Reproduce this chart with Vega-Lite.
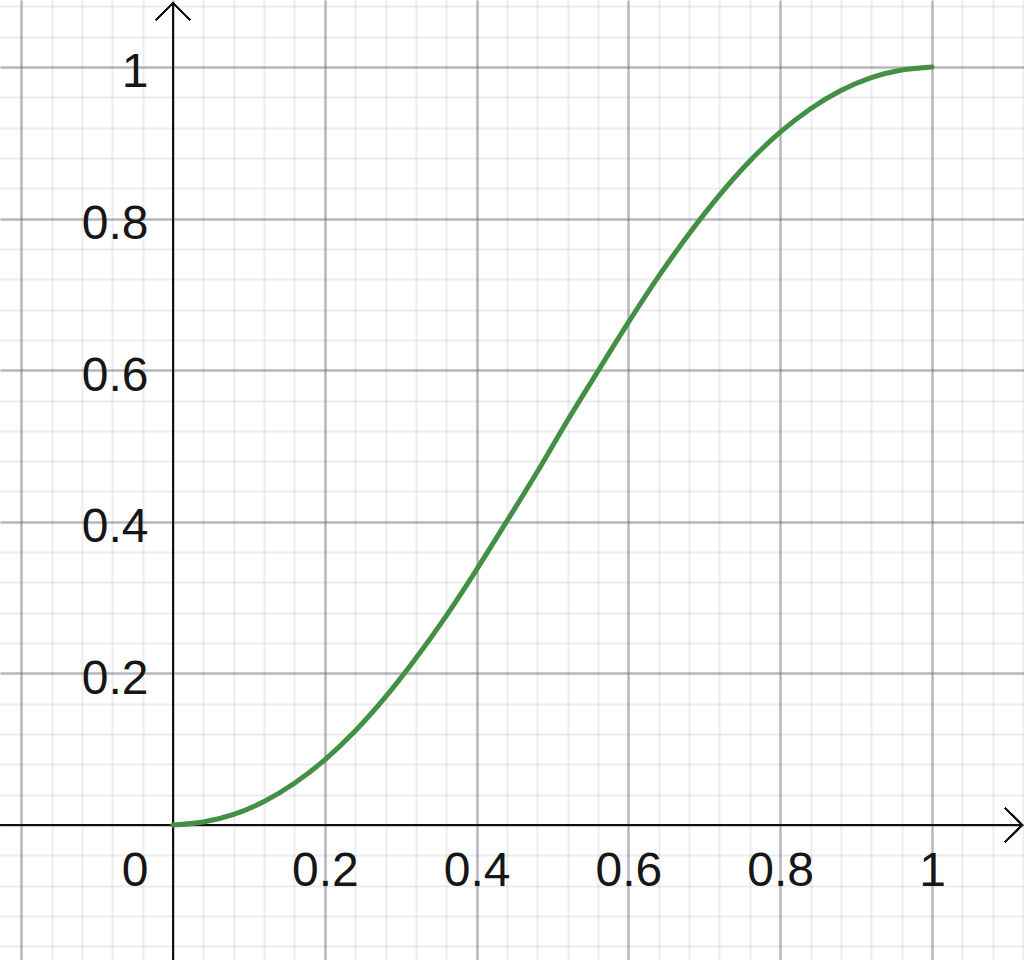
{
  "$schema": "https://vega.github.io/schema/vega-lite/v6.json",
  "width": 1024,
  "height": 960,
  "autosize": {"type": "none"},
  "padding": 0,
  "background": "white",
  "config": {"view": {"stroke": null}},
  "data": {
    "values": [
      {"x": 0, "y": 0},
      {"x": 0.04, "y": 0.004},
      {"x": 0.08, "y": 0.014},
      {"x": 0.12, "y": 0.031},
      {"x": 0.16, "y": 0.055},
      {"x": 0.2, "y": 0.086},
      {"x": 0.24, "y": 0.124},
      {"x": 0.28, "y": 0.169},
      {"x": 0.32, "y": 0.22},
      {"x": 0.36, "y": 0.276},
      {"x": 0.4, "y": 0.337},
      {"x": 0.44, "y": 0.401},
      {"x": 0.48, "y": 0.466},
      {"x": 0.52, "y": 0.534},
      {"x": 0.56, "y": 0.599},
      {"x": 0.6, "y": 0.663},
      {"x": 0.64, "y": 0.724},
      {"x": 0.68, "y": 0.78},
      {"x": 0.72, "y": 0.831},
      {"x": 0.76, "y": 0.876},
      {"x": 0.8, "y": 0.914},
      {"x": 0.84, "y": 0.945},
      {"x": 0.88, "y": 0.969},
      {"x": 0.92, "y": 0.986},
      {"x": 0.96, "y": 0.996},
      {"x": 1, "y": 1}
    ]
  },
  "encoding": {
    "x": {
      "field": "x",
      "type": "quantitative",
      "scale": {"domain": [-0.22793, 1.12121], "nice": false, "zero": false},
      "axis": {
        "orient": "bottom",
        "offset": -135,
        "title": null,
        "values": [-0.2, -0.16, -0.12, -0.08, -0.04, 0, 0.04, 0.08, 0.12, 0.16, 0.2, 0.24, 0.28, 0.32, 0.36, 0.4, 0.44, 0.48, 0.52, 0.56, 0.6, 0.64, 0.68, 0.72, 0.76, 0.8, 0.84, 0.88, 0.92, 0.96, 1, 1.04, 1.08, 1.12],
        "domain": false,
        "ticks": false,
        "tickSize": 0,
        "grid": true,
        "gridColor": "#6e6e80",
        "gridOpacity": {"condition": {"test": "abs(datum.value*5 - round(datum.value*5)) < 0.001", "value": 0.5}, "value": 0.13},
        "gridWidth": {"condition": {"test": "abs(datum.value*5 - round(datum.value*5)) < 0.001", "value": 2.5}, "value": 2},
        "labelExpr": "abs(datum.value*5 - round(datum.value*5)) < 0.001 && datum.value > -0.01 ? format(datum.value, '~g') : ''",
        "labelFont": "Liberation Sans",
        "labelFontSize": 48,
        "labelColor": "#161616",
        "labelBaseline": "alphabetic",
        "labelPadding": 60,
        "labelAlign": {"condition": {"test": "datum.value == 0", "value": "right"}, "value": "center"},
        "labelOffset": {"condition": {"test": "datum.value == 0", "value": -25}, "value": 0},
        "labelOverlap": false,
        "labelBound": false,
        "labelFlush": false
      }
    },
    "y": {
      "field": "y",
      "type": "quantitative",
      "scale": {"domain": [-0.1781, 1.08839], "nice": false, "zero": false},
      "axis": {
        "orient": "left",
        "offset": -173,
        "title": null,
        "values": [-0.16, -0.12, -0.08, -0.04, 0, 0.04, 0.08, 0.12, 0.16, 0.2, 0.24, 0.28, 0.32, 0.36, 0.4, 0.44, 0.48, 0.52, 0.56, 0.6, 0.64, 0.68, 0.72, 0.76, 0.8, 0.84, 0.88, 0.92, 0.96, 1, 1.04, 1.08],
        "domain": false,
        "ticks": false,
        "tickSize": 0,
        "grid": true,
        "gridColor": "#6e6e80",
        "gridOpacity": {"condition": {"test": "abs(datum.value*5 - round(datum.value*5)) < 0.001", "value": 0.5}, "value": 0.13},
        "gridWidth": {"condition": {"test": "abs(datum.value*5 - round(datum.value*5)) < 0.001", "value": 2.5}, "value": 2},
        "labelExpr": "abs(datum.value*5 - round(datum.value*5)) < 0.001 && datum.value > 0.01 ? format(datum.value, '~g') : ''",
        "labelFont": "Liberation Sans",
        "labelFontSize": 48,
        "labelColor": "#161616",
        "labelAlign": "right",
        "labelBaseline": "alphabetic",
        "labelPadding": 25,
        "labelOffset": 20,
        "labelOverlap": false,
        "labelBound": false,
        "labelFlush": false
      }
    }
  },
  "layer": [
    {
      "mark": {"type": "rule", "color": "#111111", "strokeWidth": 1.6},
      "encoding": {
        "x": {"datum": 0},
        "y": {"datum": -0.2},
        "y2": {"datum": 1.0844}
      }
    },
    {
      "mark": {"type": "rule", "color": "#111111", "strokeWidth": 1.6},
      "encoding": {
        "y": {"datum": 0},
        "x": {"datum": -0.3},
        "x2": {"datum": 1.1186}
      }
    },
    {
      "mark": {"type": "point", "shape": "M-1,1L0,0L1,1", "filled": false, "stroke": "#111111", "strokeWidth": 1.6, "size": 1156, "opacity": 1},
      "encoding": {
        "x": {"datum": 0},
        "y": {"datum": 1.0844}
      }
    },
    {
      "mark": {"type": "point", "shape": "M-1,-1L0,0L-1,1", "filled": false, "stroke": "#111111", "strokeWidth": 1.6, "size": 1156, "opacity": 1},
      "encoding": {
        "x": {"datum": 1.1186},
        "y": {"datum": 0}
      }
    },
    {
      "mark": {"type": "line", "color": "#438f43", "strokeWidth": 5, "strokeCap": "round", "interpolate": "monotone"}
    }
  ]
}
